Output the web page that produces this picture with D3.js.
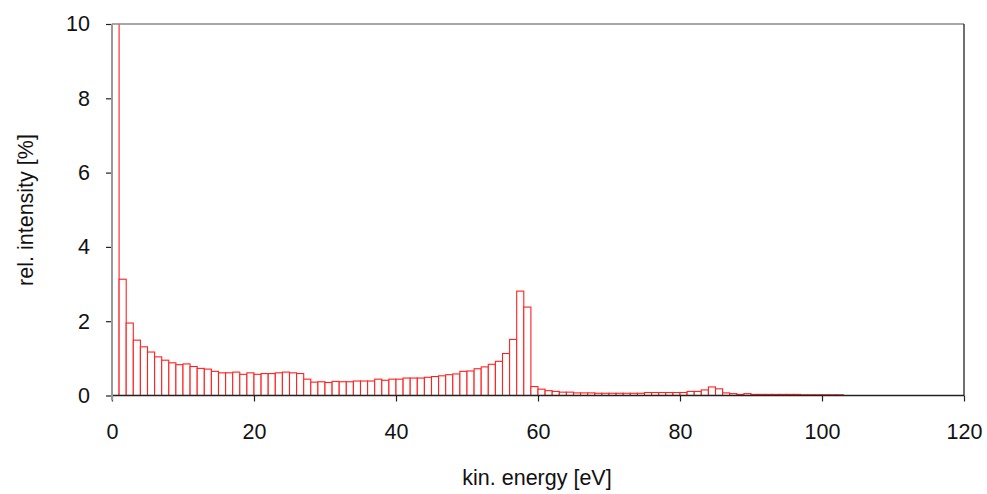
<!DOCTYPE html>
<html>
<head>
<meta charset="utf-8">
<script src="https://cdn.jsdelivr.net/npm/d3@7"></script>
<style>
  html, body { margin: 0; padding: 0; background: #fff; }
  svg { display: block; }
  text { font-family: "Liberation Sans", Arial, Helvetica, sans-serif; fill: #111; }
</style>
</head>
<body>
<svg id="chart" width="987" height="494"></svg>
<script>
// Histogram bins: each bin spans [binStart, binStart + 1) eV
const binStarts = d3.range(0, 103);
const intensities = [
  30, 3.13, 1.95, 1.49, 1.31, 1.17, 1.04, 0.95, 0.88, 0.83,
  0.85, 0.78, 0.73, 0.71, 0.65, 0.61, 0.61, 0.63, 0.57, 0.61,
  0.57, 0.59, 0.59, 0.61, 0.63, 0.61, 0.59, 0.44, 0.36, 0.37,
  0.35, 0.38, 0.37, 0.37, 0.39, 0.39, 0.39, 0.44, 0.41, 0.44,
  0.44, 0.47, 0.47, 0.47, 0.49, 0.51, 0.53, 0.56, 0.58, 0.65,
  0.66, 0.72, 0.77, 0.84, 0.92, 1.13, 1.51, 2.81, 2.38, 0.24,
  0.17, 0.13, 0.11, 0.09, 0.09, 0.07, 0.07, 0.07, 0.06, 0.06,
  0.06, 0.06, 0.06, 0.06, 0.06, 0.08, 0.08, 0.08, 0.08, 0.08,
  0.08, 0.11, 0.11, 0.15, 0.23, 0.18, 0.07, 0.05, 0.03, 0.05,
  0.03, 0.03, 0.03, 0.03, 0.03, 0.03, 0.03, 0.02, 0.02, 0.02,
  0.02, 0.02, 0.02
];
const binWidth = 1;
const xTicks = [0, 20, 40, 60, 80, 100, 120];
const yTicks = [0, 2, 4, 6, 8, 10];
const xTitle = "kin. energy [eV]";
const yTitle = "rel. intensity [%]";

const pLeft = 112, pRight = 964, pTop = 24, pBottom = 395.5;
const svg = d3.select("#chart");
const x = d3.scaleLinear().domain([0, 120]).range([pLeft, pRight]);
const y = d3.scaleLinear().domain([0, 10]).range([pBottom, pTop]);

svg.append("defs").append("clipPath").attr("id", "plotclip")
  .append("rect").attr("x", pLeft).attr("y", pTop)
  .attr("width", pRight - pLeft).attr("height", pBottom - pTop);

const data = binStarts.map((b, i) => ({ b, v: intensities[i] }));

svg.append("g").attr("clip-path", "url(#plotclip)")
  .selectAll("rect").data(data).join("rect")
  .attr("x", d => x(d.b))
  .attr("width", d => x(d.b + binWidth) - x(d.b))
  .attr("y", d => y(d.v))
  .attr("height", d => y(0) - y(d.v))
  .attr("fill", "#fff")
  .attr("stroke", "#ff2020")
  .attr("stroke-width", 1.1);

// frame
svg.append("line").attr("x1", pLeft).attr("x2", pRight).attr("y1", pTop).attr("y2", pTop)
  .attr("stroke", "#8a8a8a").attr("stroke-width", 1.5);
svg.append("line").attr("x1", pRight).attr("x2", pRight).attr("y1", pTop).attr("y2", pBottom)
  .attr("stroke", "#222").attr("stroke-width", 1.3);

// x axis
const gx = svg.append("g").attr("transform", `translate(0,${pBottom})`)
  .call(d3.axisBottom(x).tickValues(xTicks).tickSize(6).tickFormat(d3.format("d")));
gx.select(".domain").remove();
gx.selectAll(".tick line").attr("stroke", "#222").attr("stroke-width", 1.2);
gx.selectAll(".tick text").attr("dy", null).attr("y", 43.5)
  .style("font-size", "21.5px").attr("font-family", null).attr("fill", "#111");
svg.append("line").attr("x1", pLeft).attr("x2", pRight).attr("y1", pBottom).attr("y2", pBottom)
  .attr("stroke", "#222").attr("stroke-width", 1.3);

// y axis
const gy = svg.append("g").attr("transform", `translate(${pLeft},0)`)
  .call(d3.axisLeft(y).tickValues(yTicks).tickSize(6).tickPadding(16).tickFormat(d3.format("d")));
gy.select(".domain").remove();
gy.selectAll(".tick line").attr("stroke", "#222").attr("stroke-width", 1.2);
gy.selectAll(".tick text").style("font-size", "21.5px").attr("font-family", null).attr("fill", "#111");
svg.append("line").attr("x1", pLeft).attr("x2", pLeft).attr("y1", pTop).attr("y2", pBottom + 5)
  .attr("stroke", "#999").attr("stroke-width", 2);

// titles
svg.append("text").attr("x", 537).attr("y", 485).attr("text-anchor", "middle")
  .style("font-size", "21.5px").text(xTitle);
svg.append("text").attr("transform", "translate(33,210) rotate(-90)").attr("text-anchor", "middle")
  .style("font-size", "21.5px").text(yTitle);
</script>
</body>
</html>
